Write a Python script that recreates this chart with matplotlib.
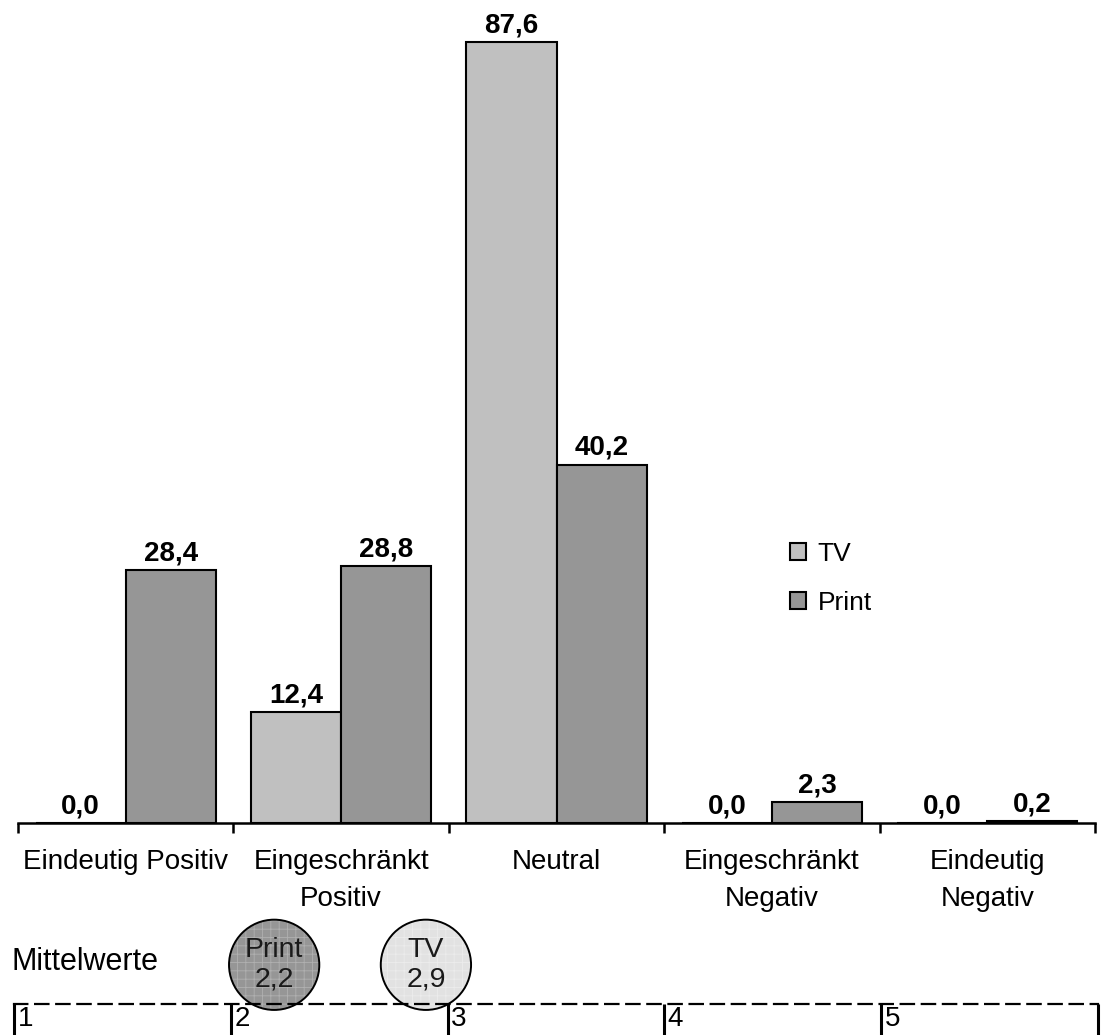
import matplotlib
matplotlib.use("Agg")
import matplotlib.pyplot as plt
from matplotlib.transforms import blended_transform_factory, offset_copy

# --- data -------------------------------------------------------------
categories = ["Eindeutig Positiv", "Eingeschränkt\nPositiv", "Neutral",
              "Eingeschränkt\nNegativ", "Eindeutig\nNegativ"]
tv_values = [0.0, 12.4, 87.6, 0.0, 0.0]
print_values = [28.4, 28.8, 40.2, 2.3, 0.2]
series_names = ["TV", "Print"]
mean_labels = ["Print", "TV"]
mean_values = [2.2, 2.9]
scale_ticks = [1, 2, 3, 4, 5]

TV_COLOR = "#c0c0c0"
PRINT_COLOR = "#969696"

plt.rcParams["font.family"] = ["Liberation Sans", "DejaVu Sans"]
plt.rcParams["hatch.linewidth"] = 0.6

W, H = 1101, 1035
fig = plt.figure(figsize=(W / 100, H / 100), dpi=100)

def px_axes(left, top, right, bottom):
    return fig.add_axes([left / W, 1 - bottom / H, (right - left) / W, (bottom - top) / H])

# --- main bar chart ---------------------------------------------------
ymax = 90.0
base_px = 823
unit_px = 8.915
ax = px_axes(18, base_px - ymax * unit_px, 1095, base_px)
ax.set_xlim(-0.5, len(categories) - 0.5)
ax.set_ylim(0, ymax)

bw = 0.418
x = list(range(len(categories)))
b_tv = ax.bar([i - bw / 2 for i in x], tv_values, width=bw, color=TV_COLOR,
              edgecolor="black", linewidth=1.5, label=series_names[0], zorder=2)
b_pr = ax.bar([i + bw / 2 for i in x], print_values, width=bw, color=PRINT_COLOR,
              edgecolor="black", linewidth=1.5, label=series_names[1], zorder=2)

for bars, vals in ((b_tv, tv_values), (b_pr, print_values)):
    for rect, v in zip(bars, vals):
        ax.annotate(f"{v:.1f}".replace(".", ","),
                    (rect.get_x() + rect.get_width() / 2, v),
                    xytext=(0, 7), textcoords="offset points",
                    ha="center", va="baseline", fontsize=20, fontweight="bold")

for s in ("top", "right", "left"):
    ax.spines[s].set_visible(False)
ax.spines["bottom"].set_linewidth(1.8)
ax.spines["bottom"].set_zorder(3)
ax.set_yticks([])

# boundary ticks between categories, labels centred on categories
ax.set_xticks([i - 0.5 for i in range(len(categories) + 1)])
ax.set_xticklabels([])
ax.tick_params(axis="x", which="major", direction="out", length=7, width=1.8)
ax.set_xticks(x, minor=True)
ax.set_xticklabels(categories, minor=True, fontsize=20, linespacing=1.55)
ax.tick_params(axis="x", which="minor", length=0, pad=19)
for lbl in ax.get_xticklabels(minor=True):
    lbl.set_verticalalignment("top")

ax.legend(handles=[b_tv, b_pr], labels=series_names, frameon=False,
          fontsize=19, handlelength=0.6, handleheight=0.6, handletextpad=0.45,
          labelspacing=0.95, loc="upper left",
          bbox_to_anchor=(790 / W, 1 - 542 / H), bbox_transform=fig.transFigure,
          borderpad=0, borderaxespad=0)

# --- mean value scale -------------------------------------------------
line_px = 1004
ax2 = px_axes(14, line_px - 80, 1098, line_px)
ax2.set_xlim(1, 6)
ax2.set_ylim(0, 1)
ax2.patch.set_visible(False)
for s in ("top", "right", "left"):
    ax2.spines[s].set_visible(False)
ax2.spines["bottom"].set_linestyle((0, (6, 3.5)))
ax2.spines["bottom"].set_linewidth(1.6)
ax2.spines["bottom"].set_zorder(5)
ax2.set_yticks([])
ax2.set_xticks(scale_ticks + [6])
ax2.set_xticklabels([])
ax2.tick_params(axis="x", direction="out", length=34, width=2.2)

trans = blended_transform_factory(ax2.transData, ax2.transAxes)
for t in scale_ticks:
    ax2.text(t, -0.02, str(t), transform=offset_copy(trans, fig=fig, x=2.5, y=0, units="points"),
             ha="left", va="top", fontsize=20)

fig.text(12 / W, 1 - 962 / H, "Mittelwerte", ha="left", va="center", fontsize=22)

circle_fill = {"Print": PRINT_COLOR, "TV": "#e2e2e2"}
circle_hatch = {"Print": "#b0b0b0", "TV": "#ececec"}
cy = 0.49
size = 65 ** 2
for name, m in zip(mean_labels, mean_values):
    ax2.scatter([m], [cy], s=size, color=circle_fill[name], edgecolor="none",
                zorder=2, clip_on=False)
    ax2.scatter([m], [cy], s=size, facecolor="none", edgecolor=circle_hatch[name],
                hatch="++", linewidth=0, zorder=2.5, clip_on=False)
    ax2.scatter([m], [cy], s=size, facecolor="none", edgecolor="black",
                linewidth=1.4, zorder=3, clip_on=False)
    ax2.text(m, cy, f"{name}\n{m:.1f}".replace(".", ","), ha="center", va="center",
             fontsize=20.5, color="#1a1a1a", linespacing=1.2, zorder=4)

fig.savefig("out.png", dpi=100, facecolor="white")
